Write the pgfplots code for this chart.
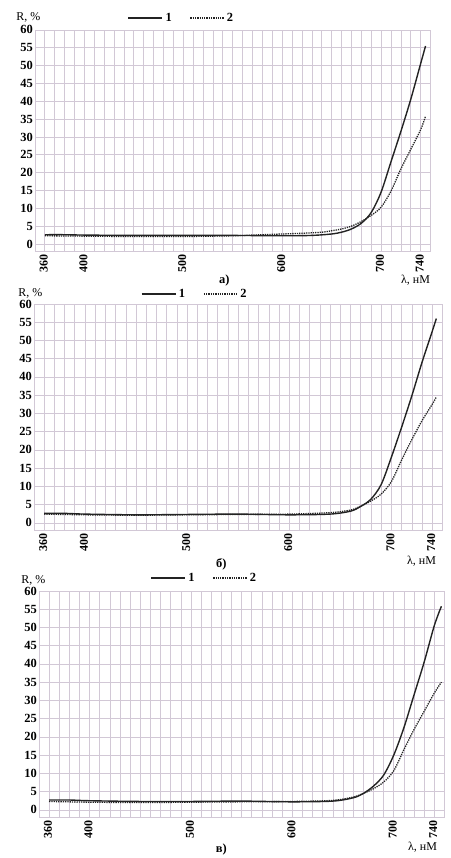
\documentclass[border=0pt]{standalone}
\usepackage{pgfplots}
\pgfplotsset{compat=1.18}
\usepackage{fontspec}
\setmainfont{Liberation Serif}
\definecolor{gridc}{RGB}{210,200,214}
\definecolor{curvec}{RGB}{35,35,35}

\pgfplotstableread{
x y
360 2.6
380 2.6
400 2.5
450 2.4
500 2.4
550 2.4
600 2.3
630 2.4
650 2.8
660 3.3
670 4.2
680 5.8
690 8.8
700 14.5
710 23
720 31.5
730 40.5
740 50.5
745 55.5
}\sAone
\pgfplotstableread{
x y
360 2.3
400 2.2
450 2.1
500 2.1
550 2.3
580 2.6
600 2.8
620 3.0
640 3.3
650 3.7
660 4.2
670 5.0
680 6.3
690 8.0
700 10.3
710 14.8
720 21.0
730 26.5
740 32.0
745 35.8
}\sAtwo
\pgfplotstableread{
x y
360 2.6
380 2.6
400 2.4
450 2.2
500 2.3
550 2.4
600 2.2
640 2.4
660 3.2
670 4.5
680 6.5
690 10.5
700 18.0
710 26.2
720 34.8
730 44.0
740 52.5
744 56.0
}\sBone
\pgfplotstableread{
x y
360 2.4
400 2.2
450 2.1
500 2.2
550 2.3
600 2.4
640 2.8
660 3.5
670 4.6
680 6.0
690 7.9
700 11.3
710 17.2
720 22.8
730 28.0
740 32.5
744 34.5
}\sBtwo
\pgfplotstableread{
x y
360 2.7
380 2.7
400 2.5
450 2.3
500 2.3
550 2.4
600 2.2
640 2.4
660 3.3
670 4.5
680 6.5
690 9.5
700 15.0
710 22.5
720 31.5
730 40.5
740 50.5
747 55.8
}\sCone
\pgfplotstableread{
x y
360 2.3
400 2.1
450 2.0
500 2.1
550 2.2
600 2.3
640 2.6
660 3.5
670 4.5
680 5.8
690 7.6
700 10.7
710 16.5
720 22.0
730 27.0
740 32.0
747 35.0
}\sCtwo

\pgfplotsset{
  panel/.style={
    scale only axis,
    anchor=north west,
    xmin=350, xmax=750,
    ymin=-2, ymax=60,
    xtick={360,400,500,600,700,740},
    minor xtick={350,360,...,750},
    ytick={0,5,...,60},
    grid=both,
    major grid style={gridc, line width=0.6pt},
    minor grid style={gridc, line width=0.6pt},
    axis line style={gridc, line width=0.6pt},
    tick style={draw=none},
    minor tick length=0pt,
    major tick length=0pt,
    xticklabel style={rotate=90, anchor=east, yshift=1pt, font=\bfseries\fontsize{12}{13}\selectfont},
    yticklabel style={font=\bfseries\fontsize{12.5}{13}\selectfont, xshift=1.5pt},
    /pgf/number format/assume math mode=true,
    /pgf/number format/1000 sep={},
    legend columns=2,
    legend cell align=left,
    legend image code/.code={\draw[#1] (0pt,0pt) -- (34pt,0pt);},
    legend style={draw=none, fill=none, inner sep=0pt,
      font=\bfseries\fontsize{12.5}{13}\selectfont,
      /tikz/every even column/.append style={column sep=16pt}},
  },
  s1/.style={curvec, line width=1.4pt, smooth, tension=0.5},
  s2/.style={curvec, line width=1.3pt, densely dotted, smooth, tension=0.5},
}

\begin{document}
\begin{tikzpicture}
\path (0pt,0pt) rectangle (452pt,-858pt);

% panel a
\begin{axis}[panel, at={(35pt,-30pt)}, width=397pt, height=222pt,
  legend style={at={(0.232,1)}, anchor=west, yshift=12pt}]
\addplot[s1, legend image post style={line width=2.8pt, solid}] table {\sAone};
\addlegendentry{1}
\addplot[s2] table {\sAtwo};
\addlegendentry{2}
\end{axis}
\node[anchor=west, font=\fontsize{12}{13}\selectfont] at (13pt,-18pt) {R, \%};
\node[font=\fontsize{12}{13}\selectfont] at (417pt,-281pt) {λ, нМ};
\node[font=\bfseries\fontsize{12.5}{13}\selectfont] at (225pt,-281pt) {а)};

% panel b
\begin{axis}[panel, at={(34pt,-305pt)}, width=410pt, height=227pt,
  legend style={at={(0.26,1)}, anchor=west, yshift=10pt}]
\addplot[s1, legend image post style={line width=2.8pt, solid}] table {\sBone};
\addlegendentry{1}
\addplot[s2] table {\sBtwo};
\addlegendentry{2}
\end{axis}
\node[anchor=west, font=\fontsize{12}{13}\selectfont] at (15pt,-294pt) {R, \%};
\node[font=\fontsize{12}{13}\selectfont] at (423pt,-563pt) {λ, нМ};
\node[font=\bfseries\fontsize{12.5}{13}\selectfont] at (222pt,-566pt) {б)};

% panel c
\begin{axis}[panel, at={(39pt,-593pt)}, width=407pt, height=227pt,
  legend style={at={(0.273,1)}, anchor=west, yshift=13pt}]
\addplot[s1, legend image post style={line width=2.8pt, solid}] table {\sCone};
\addlegendentry{1}
\addplot[s2] table {\sCtwo};
\addlegendentry{2}
\end{axis}
\node[anchor=west, font=\fontsize{12}{13}\selectfont] at (18pt,-582pt) {R, \%};
\node[font=\fontsize{12}{13}\selectfont] at (424pt,-850pt) {λ, нМ};
\node[font=\bfseries\fontsize{12.5}{13}\selectfont] at (222pt,-852pt) {в)};
\end{tikzpicture}
\end{document}
